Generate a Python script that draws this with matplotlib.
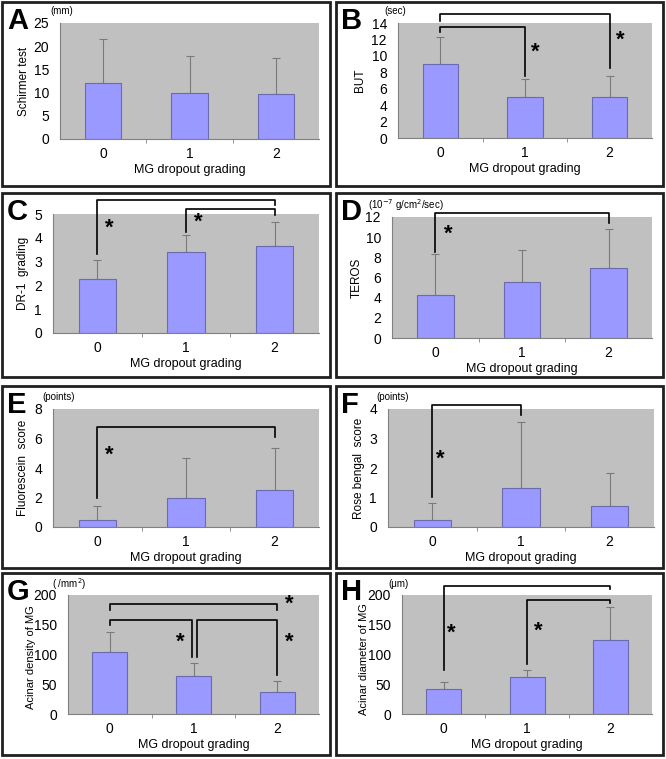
import matplotlib.pyplot as plt
from matplotlib.patches import Rectangle

W, H = 666, 759

grades = ['0', '1', '2']
xlabel = 'MG dropout grading'

# panel data: means and SD (upper error only)
a_mean = [12.1, 9.9, 9.7]
a_sd = [9.4, 7.9, 7.8]
b_mean = [9.0, 5.0, 5.0]
b_sd = [3.3, 2.2, 2.6]
c_mean = [2.25, 3.4, 3.65]
c_sd = [0.8, 0.7, 1.0]
d_mean = [4.25, 5.6, 6.95]
d_sd = [4.05, 3.15, 3.85]
e_mean = [0.5, 1.95, 2.5]
e_sd = [0.95, 2.7, 2.85]
f_mean = [0.25, 1.32, 0.72]
f_sd = [0.57, 2.25, 1.1]
g_mean = [104, 64, 37]
g_sd = [34, 21, 18]
h_mean = [42, 62, 125]
h_sd = [12, 12, 55]

# significance brackets: (x left, x right, y top, y left end, y right end)
b_brackets = [(0, 1, 13.5, 12.95, 7.55), (0, 2, 15.05, 14.3, 8.5)]
c_brackets = [(0, 2, 5.59, 3.34, 5.38), (1, 2, 5.2, 4.26, 4.96)]
d_brackets = [(0, 2, 12.36, 8.56, 11.4)]
e_brackets = [(0, 2, 6.8, 1.99, 6.08)]
f_brackets = [(0, 1, 4.14, 1.03, 3.8)]
g_brackets = [(0, 2, 185.7, 175.6, 174.5), (0, 0.98, 158.7, 149, 95.3),
              (1.04, 2, 158.7, 95.3, 65.5)]
h_brackets = [(0, 2, 215, 74, 209.6), (1, 2, 192, 84, 186)]
# stars (x, y)
b_stars = [(1.12, 10.4), (2.12, 11.85)]
c_stars = [(0.14, 4.42), (1.14, 4.65)]
d_stars = [(0.15, 10.28)]
e_stars = [(0.13, 4.88)]
f_stars = [(0.09, 2.31)]
g_stars = [(0.84, 120), (2.14, 120), (2.14, 184)]
h_stars = [(0.09, 136.6), (1.13, 139.5)]

panels = [
    dict(letter='A', ylabel='Schirmer test', unit='(mm)', mean=a_mean, sd=a_sd,
         ymax=25, step=5, br=[], st=[], ylfs=8.5, ylpos=0.5, ylx=22,
         box=(2, 2, 330, 186), ax=(60, 23, 319, 139), unitpos=(50, 11)),
    dict(letter='B', ylabel='BUT', unit='(sec)', mean=b_mean, sd=b_sd,
         ymax=14, step=2, br=b_brackets, st=b_stars, ylfs=8.5, ylpos=0.5, ylx=358,
         box=(336, 2, 663, 186), ax=(398, 23, 652, 138), unitpos=(384, 11)),
    dict(letter='C', ylabel='DR-1  grading', unit='', mean=c_mean, sd=c_sd,
         ymax=5, step=1, br=c_brackets, st=c_stars, ylfs=8.5, ylpos=0.5, ylx=21,
         box=(2, 193, 330, 377), ax=(53, 214, 319, 333), unitpos=None),
    dict(letter='D', ylabel='TEROS', unit='(10$^{-7}$ g/cm$^{2}$/sec)', mean=d_mean, sd=d_sd,
         ymax=12, step=2, br=d_brackets, st=d_stars, ylfs=8.5, ylpos=0.5, ylx=355,
         box=(336, 193, 663, 377), ax=(392, 217, 652, 338), unitpos=(368, 205)),
    dict(letter='E', ylabel='Fluorescein  score', unit='(points)', mean=e_mean, sd=e_sd,
         ymax=8, step=2, br=e_brackets, st=e_stars, ylfs=8.5, ylpos=0.5, ylx=21,
         box=(2, 386, 330, 568), ax=(53, 409, 319, 527), unitpos=(42, 397)),
    dict(letter='F', ylabel='Rose bengal  score', unit='(points)', mean=f_mean, sd=f_sd,
         ymax=4, step=1, br=f_brackets, st=f_stars, ylfs=8.5, ylpos=0.5, ylx=357,
         box=(336, 386, 663, 568), ax=(388, 409, 654, 527), unitpos=(376, 397)),
    dict(letter='G', ylabel='Acinar density of MG', unit='( /mm$^{2}$)', mean=g_mean, sd=g_sd,
         ymax=200, step=50, br=g_brackets, st=g_stars, ylfs=8, ylpos=0.48, ylx=28,
         box=(2, 573, 330, 755), ax=(68, 595, 319, 714), unitpos=(52, 584)),
    dict(letter='H', ylabel='Acinar diameter of MG', unit='(\u03bcm)', mean=h_mean, sd=h_sd,
         ymax=200, step=50, br=h_brackets, st=h_stars, ylfs=8, ylpos=0.46, ylx=361,
         box=(336, 573, 663, 755), ax=(402, 595, 652, 714), unitpos=(388, 584)),
]

plt.rcParams['font.family'] = ['Liberation Sans', 'DejaVu Sans']
fig = plt.figure(figsize=(W / 100, H / 100), dpi=100)


def fx(px):
    return px / W


def fy(py):
    return 1 - py / H


for p in panels:
    x0, y0, x1, y1 = p['box']
    fig.patches.append(Rectangle((fx(x0), fy(y1)), fx(x1 - x0), (y1 - y0) / H,
                                 transform=fig.transFigure, fill=False,
                                 edgecolor='#202020', linewidth=2))
    fig.text(fx(x0 + 5), fy(y0 + 5), p['letter'], fontsize=21, fontweight='bold',
             va='top', ha='left')
    if p['unitpos']:
        fig.text(fx(p['unitpos'][0]), fy(p['unitpos'][1]), p['unit'], fontsize=7,
                 va='center', ha='left')

    l, t, r, b = p['ax']
    ax = fig.add_axes([fx(l), fy(b), fx(r - l), (b - t) / H])
    ax.set_facecolor('#c0c0c0')
    xs = range(len(grades))
    ax.bar(xs, p['mean'], width=0.42, color='#9999ff', edgecolor='#6b6bb0', linewidth=0.8,
           zorder=2)
    ax.errorbar(xs, p['mean'], yerr=[[0] * 3, p['sd']], fmt='none', ecolor='#7a7a7a',
                elinewidth=0.8, capsize=3, capthick=0.8, zorder=1)
    ax.set_xlim(-0.5, 2.5)
    ax.set_ylim(0, p['ymax'])
    ax.set_yticks(range(0, p['ymax'] + 1, p['step']))
    ax.set_xticks(list(xs))
    ax.set_xticklabels(grades)
    ax.set_xticks([0.5, 1.5], minor=True)
    ax.tick_params(axis='x', which='major', length=0, labelsize=10, pad=6)
    ax.tick_params(axis='x', which='minor', length=3, color='#808080', direction='out')
    ax.tick_params(axis='y', length=0, labelsize=10, pad=8)
    for s in ['top', 'right']:
        ax.spines[s].set_visible(False)
    for s in ['left', 'bottom']:
        ax.spines[s].set_color('#808080')
        ax.spines[s].set_linewidth(0.8)
    ax.set_xlabel(xlabel, fontsize=9, labelpad=2)
    ax.set_ylabel(p['ylabel'], fontsize=p['ylfs'])
    # label anchor sits on the far side of the rotated text
    ax.yaxis.set_label_coords((p['ylx'] + 8 - l) / (r - l), p['ylpos'])

    for xa, xb, top, ya, yb in p['br']:
        ax.plot([xa, xa, xb, xb], [ya, top, top, yb], color='black', linewidth=1.2,
                clip_on=False, zorder=3)
    for sx, sy in p['st']:
        ax.text(sx, sy, '*', fontsize=16, fontweight='bold', ha='center', va='center',
                zorder=4)

plt.savefig('out.png', dpi=100)
